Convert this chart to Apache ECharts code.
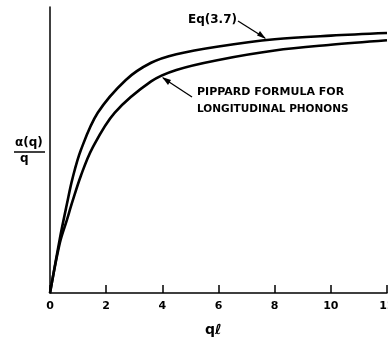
<!DOCTYPE html>
<html>
<head>
<meta charset="utf-8">
<script src="https://cdn.jsdelivr.net/npm/echarts@6/dist/echarts.min.js"></script>
<style>
html,body{margin:0;padding:0;background:#fff;}
#c{width:388px;height:341px;}
</style>
</head>
<body>
<div id="c"></div>
<script>
// x-axis tick labels
const xTickLabels = ['0','2','4','6','8','10','12'];
// Eq (3.7) curve: q*l vs alpha(q)/q (relative units)
const eqX = [0, 0.35, 0.6, 0.8, 1.1, 1.7, 2.7, 3.6, 4.5, 6, 8, 10, 12];
const eqY = [0, 0.19, 0.31, 0.40, 0.50, 0.63, 0.745, 0.805, 0.835, 0.862, 0.887, 0.90, 0.909];
// Pippard formula for longitudinal phonons
const pipX = [0, 0.35, 0.6, 0.8, 1.1, 1.5, 2.3, 3.6, 4.5, 6, 8, 10, 12];
const pipY = [0, 0.175, 0.255, 0.32, 0.41, 0.505, 0.63, 0.74, 0.78, 0.815, 0.848, 0.868, 0.884];

const FONT = '"DejaVu Sans", sans-serif';
const chart = echarts.init(document.getElementById('c'), null, {renderer: 'canvas'});

function pairs(xs, ys) { return xs.map((x, i) => [x, ys[i]]); }

chart.setOption({
  animation: false,
  backgroundColor: '#fff',
  grid: {left: 50, right: 1, top: 7, bottom: 48, containLabel: false, outerBoundsMode: 'none'},
  xAxis: {
    type: 'value', min: 0, max: 12, interval: 2,
    axisLine: {show: true, onZero: false, lineStyle: {color: '#000', width: 1.5}},
    axisTick: {show: true, inside: true, length: 8, lineStyle: {color: '#000', width: 1.5}},
    axisLabel: {color: '#000', fontFamily: FONT, fontWeight: 'bold', fontSize: 11, margin: 8,
      formatter: v => xTickLabels[Math.round(v / 2)] || ''},
    splitLine: {show: false}
  },
  yAxis: {
    type: 'value', min: 0, max: 1,
    axisLine: {show: true, onZero: false, lineStyle: {color: '#000', width: 1.5}},
    axisTick: {show: false},
    axisLabel: {show: false},
    splitLine: {show: false}
  },
  series: [
    {type: 'line', name: 'Eq (3.7)', data: pairs(eqX, eqY), smooth: 0.35,
      showSymbol: false, lineStyle: {color: '#000', width: 2.6}},
    {type: 'line', name: 'Pippard', data: pairs(pipX, pipY), smooth: 0.35,
      showSymbol: false, lineStyle: {color: '#000', width: 2.6}}
  ],
  graphic: [
    // y-axis name as fraction
    {type: 'text', left: 15, top: 137, style: {text: 'α(q)', font: 'bold 12px ' + FONT, fill: '#000'}},
    {type: 'line', shape: {x1: 14, y1: 152, x2: 45, y2: 152}, style: {stroke: '#000', lineWidth: 1.5}},
    {type: 'text', left: 20, top: 153, style: {text: 'q', font: 'bold 12px ' + FONT, fill: '#000'}},
    // x-axis name
    {type: 'text', left: 205, top: 323, style: {text: 'qℓ', font: 'bold 14px ' + FONT, fill: '#000'}},
    // Eq (3.7) annotation
    {type: 'text', left: 188, top: 14, style: {text: 'Eq(3.7)', font: 'bold 12px ' + FONT, fill: '#000'}},
    {type: 'line', shape: {x1: 238, y1: 21, x2: 265, y2: 38}, style: {stroke: '#000', lineWidth: 1.3}},
    {type: 'polygon', shape: {points: [[266, 39], [257, 35.5], [260, 31]]}, style: {fill: '#000'}},
    // Pippard annotation
    {type: 'text', left: 197, top: 87, style: {text: 'PIPPARD FORMULA FOR', font: 'bold 11px ' + FONT, fill: '#000'}},
    {type: 'text', left: 197, top: 104, style: {text: 'LONGITUDINAL PHONONS', font: 'bold 10.5px ' + FONT, fill: '#000'}},
    {type: 'line', shape: {x1: 192, y1: 97, x2: 163, y2: 78}, style: {stroke: '#000', lineWidth: 1.3}},
    {type: 'polygon', shape: {points: [[162, 77], [171, 80], [168, 85]]}, style: {fill: '#000'}}
  ]
});
</script>
</body>
</html>
